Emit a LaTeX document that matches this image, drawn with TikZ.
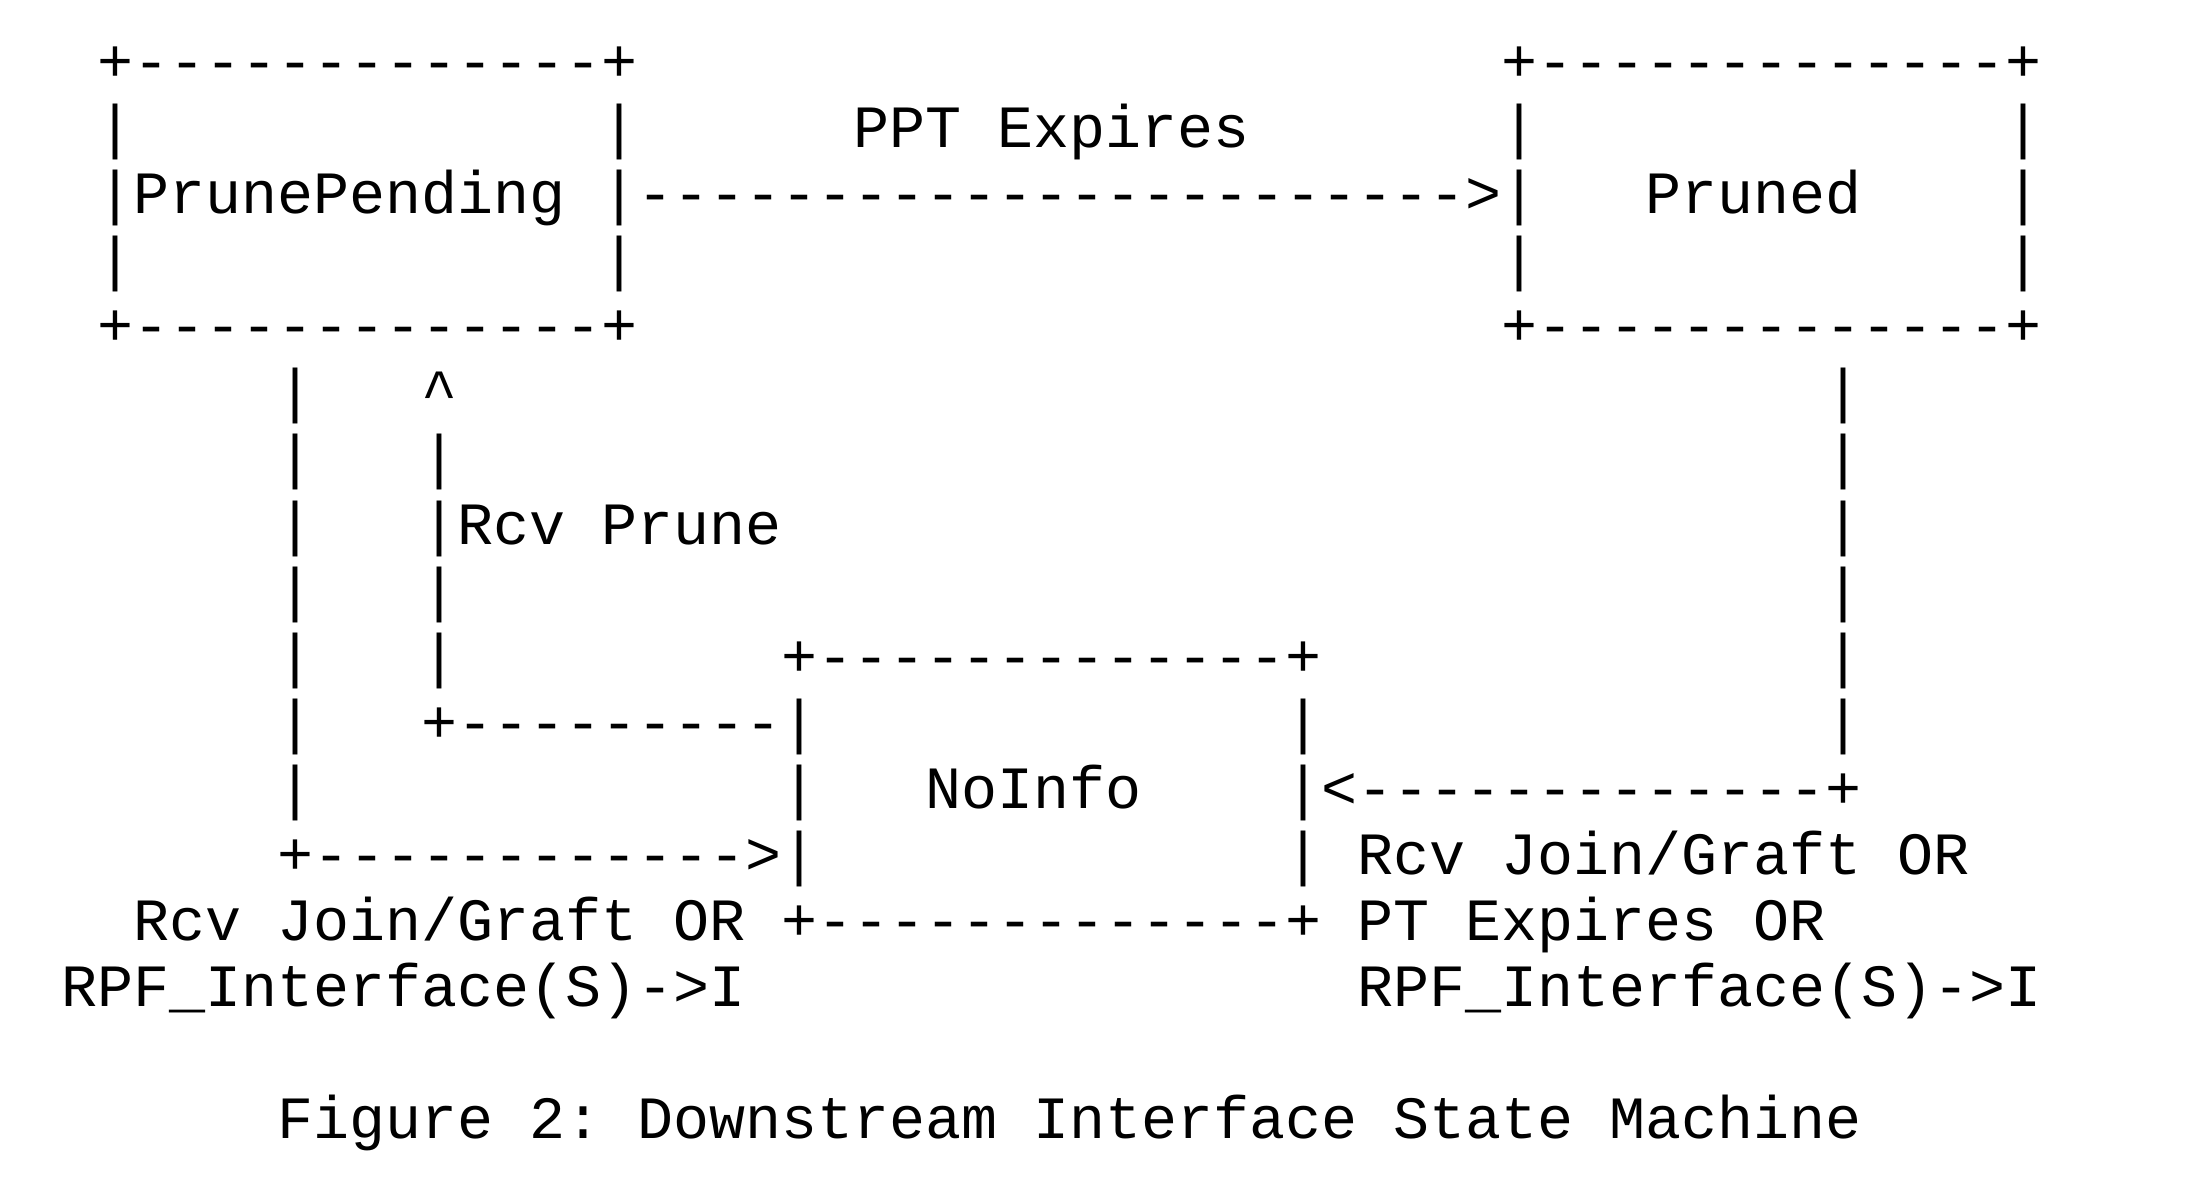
\documentclass[tikz,border=0pt]{standalone}
\usepackage{fontspec}
\setmonofont{Liberation Mono}
\newcommand{\asciiseg}[4]{\node[ln] (#1) at ({61.3+36*#2},{81.3+66.1*(#3-1)}) {#4};}
\begin{document}
\begin{tikzpicture}[x=0.5pt,y=-0.5pt,
  ln/.style={anchor=base west, inner sep=0pt, outer sep=0pt,
    font=\ttfamily\fontsize{30}{33}\selectfont, text=black}]
\path[use as bounding box, fill=white] (0,0) rectangle (2185,1196);
% row 1
\asciiseg{ppTop}{1}{1}{+-------------+}
\asciiseg{prTop}{40}{1}{+-------------+}
% row 2
\asciiseg{ppL2}{1}{2}{|}
\asciiseg{ppR2}{15}{2}{|}
\asciiseg{ppt}{22}{2}{PPT Expires}
\asciiseg{prL2}{40}{2}{|}
\asciiseg{prR2}{54}{2}{|}
% row 3
\asciiseg{prunepending}{1}{3}{|PrunePending}
\asciiseg{pptArrow}{15}{3}{|----------------------->|}
\asciiseg{pruned}{44}{3}{Pruned}
\asciiseg{prR3}{54}{3}{|}
% row 4
\asciiseg{ppL4}{1}{4}{|}
\asciiseg{ppR4}{15}{4}{|}
\asciiseg{prL4}{40}{4}{|}
\asciiseg{prR4}{54}{4}{|}
% row 5
\asciiseg{ppBot}{1}{5}{+-------------+}
\asciiseg{prBot}{40}{5}{+-------------+}
% row 6
\asciiseg{aL6}{6}{6}{|}
\asciiseg{aHead}{10}{6}{\textasciicircum}
\asciiseg{aR6}{49}{6}{|}
% row 7
\asciiseg{aL7}{6}{7}{|}
\asciiseg{aM7}{10}{7}{|}
\asciiseg{aR7}{49}{7}{|}
% row 8
\asciiseg{aL8}{6}{8}{|}
\asciiseg{rcvPrune}{10}{8}{|Rcv Prune}
\asciiseg{aR8}{49}{8}{|}
% row 9
\asciiseg{aL9}{6}{9}{|}
\asciiseg{aM9}{10}{9}{|}
\asciiseg{aR9}{49}{9}{|}
% row 10
\asciiseg{aL10}{6}{10}{|}
\asciiseg{aM10}{10}{10}{|}
\asciiseg{niTop}{20}{10}{+-------------+}
\asciiseg{aR10}{49}{10}{|}
% row 11
\asciiseg{aL11}{6}{11}{|}
\asciiseg{pruneLine}{10}{11}{+---------|}
\asciiseg{niR11}{34}{11}{|}
\asciiseg{aR11}{49}{11}{|}
% row 12
\asciiseg{aL12}{6}{12}{|}
\asciiseg{niL12}{20}{12}{|}
\asciiseg{noinfo}{24}{12}{NoInfo}
\asciiseg{joinArrowR}{34}{12}{|<-------------+}
% row 13
\asciiseg{joinArrowL}{6}{13}{+------------>|}
\asciiseg{niR13}{34}{13}{|}
\asciiseg{lblR1}{36}{13}{Rcv Join/Graft OR}
% row 14
\asciiseg{lblL1}{2}{14}{Rcv Join/Graft OR}
\asciiseg{niBot}{20}{14}{+-------------+}
\asciiseg{lblR2}{36}{14}{PT Expires OR}
% row 15
\asciiseg{lblL2}{0}{15}{RPF\_Interface(S)->I}
\asciiseg{lblR3}{36}{15}{RPF\_Interface(S)->I}
% row 17
\asciiseg{caption}{6}{17}{Figure 2: Downstream Interface State Machine}
\end{tikzpicture}
\end{document}
